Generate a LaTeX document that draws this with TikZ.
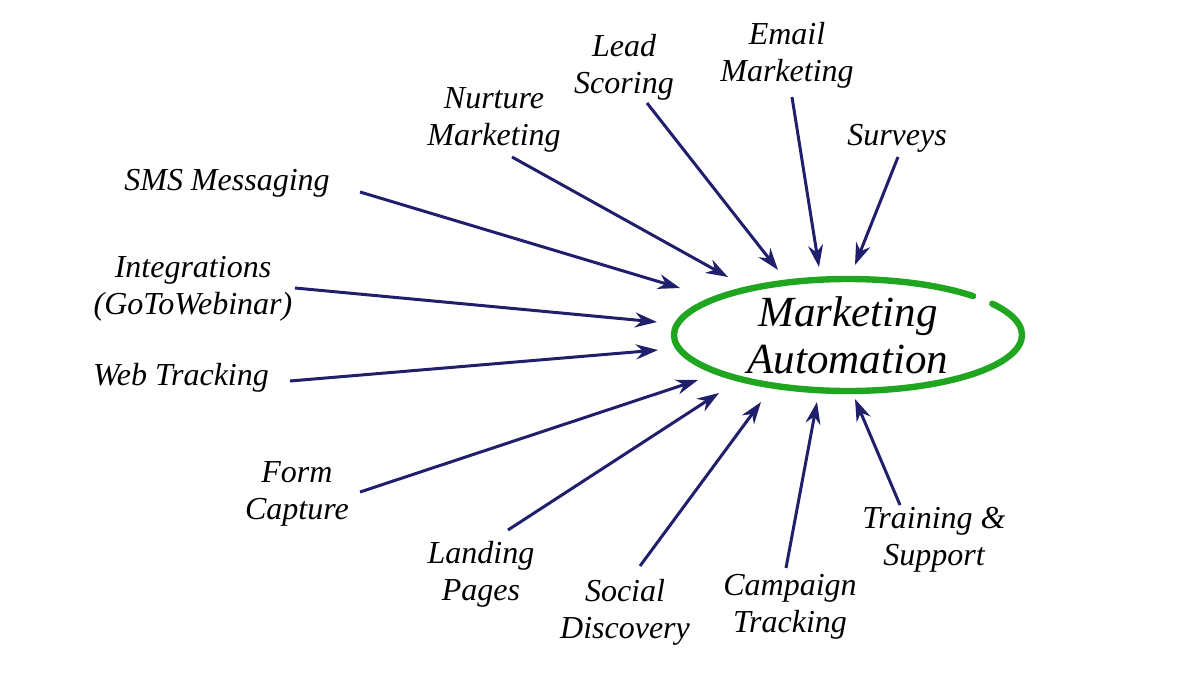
\documentclass[tikz,border=0pt]{standalone}
\usepackage{fontspec}
\setmainfont{Liberation Serif}
\usetikzlibrary{arrows.meta,positioning}
\definecolor{arrowblue}{RGB}{31,31,107}
\definecolor{ringgreen}{RGB}{32,165,32}
\tikzset{
  topic/.style={font=\itshape\fontsize{16}{18.5}\selectfont,align=center,inner sep=0pt},
  hub/.style={font=\itshape\fontsize{21.5}{23.5}\selectfont,align=center,inner sep=0pt},
  feed/.style={->,draw=arrowblue,line width=1.5pt},
  ring/.style={draw=ringgreen,line width=3.2pt,line cap=round},
}

\begin{document}
\begin{tikzpicture}[x=0.5pt,y=-0.5pt,>={Stealth[length=11pt,width=7.5pt]}]
  \useasboundingbox (0,0) rectangle (1200,675);
  \node[hub] (ma) at (848,335) {Marketing\\Automation};
  \draw[ring] (848,335) ++(-34:174 and 56) arc[start angle=-34,end angle=316,x radius=174,y radius=56];

  \node[topic] (lead) at (624,67) {Lead\\Scoring};
  \node[topic] (email) at (787,55) {Email\\Marketing};
  \node[topic] (surv) at (897,138) {Surveys};
  \node[topic] (nurt) at (494,120) {Nurture\\Marketing};
  \node[topic] (sms) at (227,183) {SMS Messaging};
  \node[topic] (integ) at (193,289) {Integrations\\(GoToWebinar)};
  \node[topic] (web) at (181,378) {Web Tracking};
  \node[topic] (form) at (297,494) {Form\\Capture};
  \node[topic] (land) at (481,574) {Landing\\Pages};
  \node[topic] (soc) at (625,612) {Social\\Discovery};
  \node[topic] (camp) at (790,607) {Campaign\\Tracking};
  \node[topic] (train) at (934,540) {Training \&\\Support};

  \coordinate (lead-out) at (647,103);  \coordinate (lead-in) at (778,270);
  \coordinate (email-out) at (792,97);  \coordinate (email-in) at (819,267);
  \coordinate (surv-out) at (898,157);  \coordinate (surv-in) at (855,265);
  \coordinate (nurt-out) at (512,157);  \coordinate (nurt-in) at (728,277);
  \coordinate (sms-out) at (360,192);   \coordinate (sms-in) at (680,288);
  \coordinate (integ-out) at (295,288); \coordinate (integ-in) at (657,322);
  \coordinate (web-out) at (290,381);   \coordinate (web-in) at (658,350);
  \coordinate (form-out) at (360,492);  \coordinate (form-in) at (698,380);
  \coordinate (land-out) at (508,530);  \coordinate (land-in) at (719,393);
  \coordinate (soc-out) at (640,566);   \coordinate (soc-in) at (761,402);
  \coordinate (camp-out) at (786,568);  \coordinate (camp-in) at (817,402);
  \coordinate (train-out) at (900,505); \coordinate (train-in) at (855,399);

  \draw[feed] (lead-out) -- (lead-in);
  \draw[feed] (email-out) -- (email-in);
  \draw[feed] (surv-out) -- (surv-in);
  \draw[feed] (nurt-out) -- (nurt-in);
  \draw[feed] (sms-out) -- (sms-in);
  \draw[feed] (integ-out) -- (integ-in);
  \draw[feed] (web-out) -- (web-in);
  \draw[feed] (form-out) -- (form-in);
  \draw[feed] (land-out) -- (land-in);
  \draw[feed] (soc-out) -- (soc-in);
  \draw[feed] (camp-out) -- (camp-in);
  \draw[feed] (train-out) -- (train-in);
\end{tikzpicture}
\end{document}
